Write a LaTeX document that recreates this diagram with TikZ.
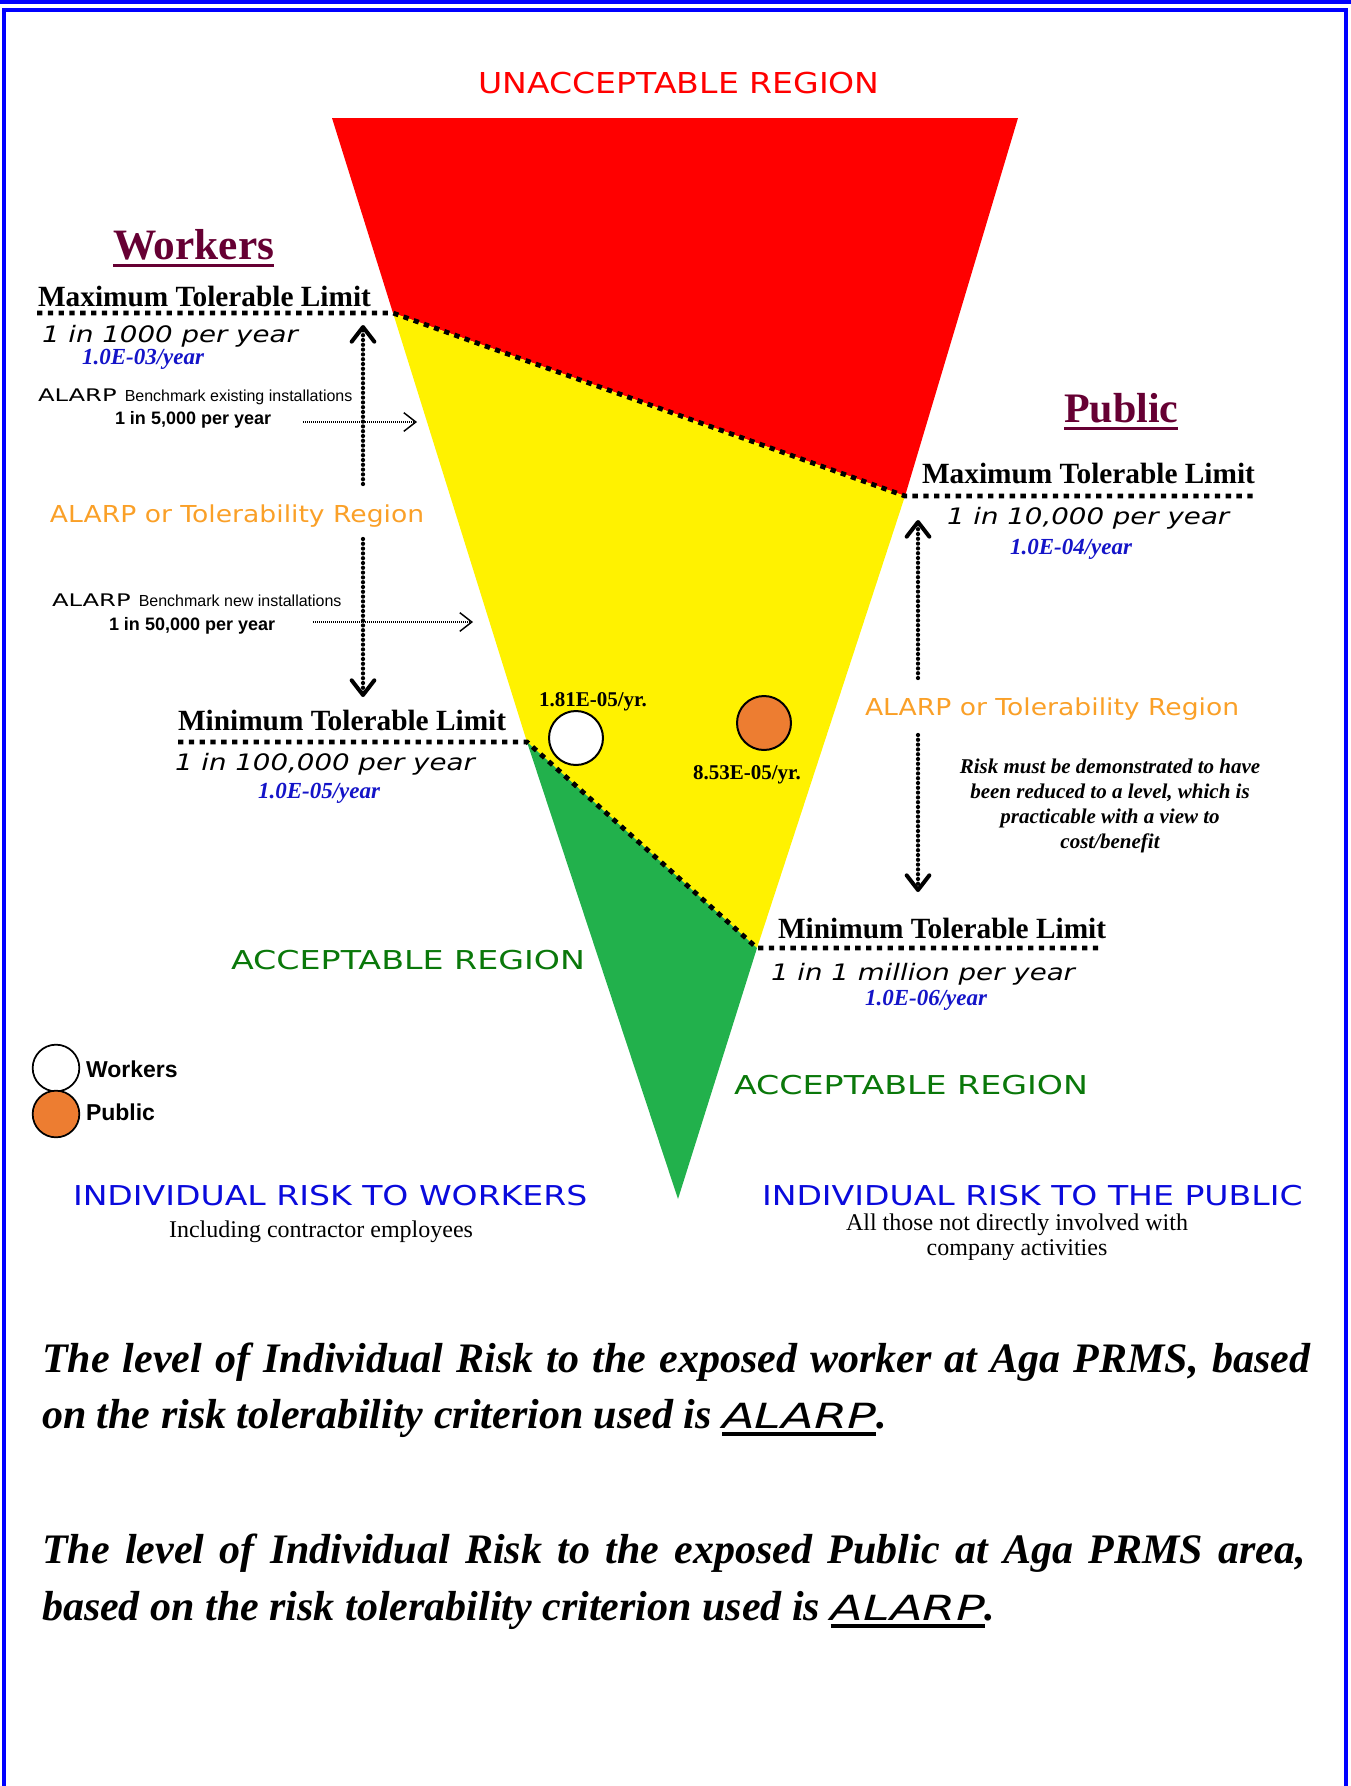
\documentclass[tikz,border=0pt]{standalone}
\usepackage{fontspec}
\usepackage{graphicx}
\setmainfont{Liberation Serif}
\newfontfamily\tms{Liberation Serif}
\newfontfamily\arl{Liberation Sans}
\newfontfamily\dvs{DejaVu Sans}
\usetikzlibrary{arrows.meta}
\newcommand\fsz[1]{\fontsize{#1}{#1}\selectfont}
\newcommand\sx[2]{\scalebox{#1}[1]{#2}}
\newcommand\thul[3]{\setbox0=\hbox{#3}\rlap{\rule[#1]{\wd0}{#2}}\box0}
\definecolor{rred}{RGB}{255,0,0}
\definecolor{ryel}{RGB}{255,242,0}
\definecolor{rgrn}{RGB}{34,177,76}
\definecolor{rorg}{RGB}{237,125,49}
\definecolor{maroonh}{RGB}{102,0,51}
\definecolor{alarpc}{RGB}{250,160,40}
\definecolor{accg}{RGB}{10,120,10}
\definecolor{valblue}{RGB}{20,20,200}
\definecolor{hdblue}{RGB}{10,10,220}
\definecolor{frameblue}{RGB}{0,0,255}
\begin{document}
\begin{tikzpicture}[x=0.75pt,y=-0.75pt,
  txt/.style={inner sep=0pt,outer sep=0pt},
  limitline/.style={line width=3.6pt,dash pattern=on 4pt off 4.1pt},
  bigarrow/.style={line width=3.2pt,line cap=round,dash pattern=on 0pt off 3.6pt,
     -{Straight Barb[length=11pt,width=17pt,line width=3pt,round]}},
  smallarrow/.style={line width=1pt,dash pattern=on 0.75pt off 0.75pt,
     -{Straight Barb[length=9pt,width=14pt,line width=1.1pt]}},
  mtl/.style={txt,anchor=base west,font=\tms\bfseries\fsz{22}},
  val/.style={txt,anchor=base west,text=valblue,font=\tms\bfseries\itshape\fsz{17.25}},
  peryr/.style={txt,anchor=base west},
  riskv/.style={txt,anchor=base,font=\tms\bfseries\fsz{15.75}},
  dot/.style={circle,draw,line width=1.5pt,inner sep=0pt,minimum size=40.5pt},
  legdot/.style={circle,draw,line width=1.3pt,inner sep=0pt,minimum size=35pt},
]
\useasboundingbox (0,0) rectangle (1351,1786);
% frame
\draw[frameblue,line width=3pt] (0,2) -- (1351,2);
\draw[frameblue,line width=2.5pt] (4,1790) -- (4,10) -- (1346,10) -- (1346,1790);

% triangle geometry
\coordinate (TL) at (332,118);
\coordinate (TR) at (1018,118);
\coordinate (apex) at (678,1199);
\coordinate (wmaxL) at (37,313);
\coordinate (wmaxE) at (393,313);
\coordinate (pmaxE) at (905,496);
\coordinate (pmaxR) at (1253,496);
\coordinate (wminL) at (178,742);
\coordinate (wminE) at (527,742);
\coordinate (pminE) at (757,948);
\coordinate (pminR) at (1103,948);

\fill[rred] (TL) -- (TR) -- (pmaxE) -- (wmaxE) -- cycle;
\fill[ryel] (wmaxE) -- (pmaxE) -- (pminE) -- (wminE) -- cycle;
\fill[rgrn] (wminE) -- (pminE) -- (apex) -- cycle;

\draw[limitline] (wmaxL) -- (wmaxE) -- (pmaxE) -- (pmaxR);
\draw[limitline] (wminL) -- (wminE) -- (pminE) -- (pminR);

% top title
\node[txt,anchor=base,text=rred] (unacc) at (679,93) {\sx{1.15}{\dvs\fsz{21.6}UNACCEPTABLE REGION}};

% Workers side
\node[txt,anchor=base west,text=maroonh] (wkh) at (113,259) {\thul{-6.25pt}{2.5pt}{\tms\bfseries\fsz{32.5}Workers}};
\node[mtl] (wmax) at (38,306) {Maximum Tolerable Limit};
\node[peryr] (wmaxr) at (42,342) {\sx{1.22}{\dvs\itshape\fsz{17}1 in 1000 per year}};
\node[val] (wmaxv) at (82,364) {1.0E-03/year};
\node[txt,anchor=base west] (bex) at (38,401) {\sx{1.4}{\dvs\fsz{13}ALARP}\hspace{6pt}{\arl\fsz{12}Benchmark existing installations}};
\node[txt,anchor=base west] (bexr) at (115,424) {\arl\bfseries\fsz{13.5}1 in 5,000 per year};
\node[txt,anchor=base west,text=alarpc] (walarp) at (50,522) {\sx{1.14}{\dvs\fsz{17.5}ALARP or Tolerability Region}};
\node[txt,anchor=base west] (bnew) at (52,606) {\sx{1.4}{\dvs\fsz{13}ALARP}\hspace{6pt}{\arl\fsz{12}Benchmark new installations}};
\node[txt,anchor=base west] (bnewr) at (109,630) {\arl\bfseries\fsz{13.5}1 in 50,000 per year};
\node[mtl] (wmin) at (178,730) {Minimum Tolerable Limit};
\node[peryr] (wminr) at (175,770) {\sx{1.22}{\dvs\itshape\fsz{17}1 in 100,000 per year}};
\node[val] (wminv) at (258,798) {1.0E-05/year};

% workers arrows
\coordinate (wa1s) at (363,484); \coordinate (wa1t) at (363,325);
\coordinate (wa2s) at (363,539); \coordinate (wa2t) at (363,697);
\draw[bigarrow] (wa1s) -- (wa1t);
\draw[bigarrow] (wa2s) -- (wa2t);
\coordinate (ha1s) at (303,422); \coordinate (ha1t) at (417,422);
\coordinate (ha2s) at (313,622); \coordinate (ha2t) at (473,622);
\draw[smallarrow] (ha1s) -- (ha1t);
\draw[smallarrow] (ha2s) -- (ha2t);

% Public side
\node[txt,anchor=base west,text=maroonh] (pbh) at (1064,422) {\thul{-6.25pt}{2.2pt}{\tms\bfseries\fsz{31.5}Public}};
\node[mtl] (pmax) at (922,483) {Maximum Tolerable Limit};
\node[peryr] (pmaxr) at (947,524) {\sx{1.22}{\dvs\itshape\fsz{17}1 in 10,000 per year}};
\node[val] (pmaxv) at (1010,554) {1.0E-04/year};
\node[txt,anchor=base west,text=alarpc] (palarp) at (865,715) {\sx{1.14}{\dvs\fsz{17.5}ALARP or Tolerability Region}};
\node[txt,anchor=base,align=center,font=\tms\bfseries\itshape\fontsize{15.75}{18.75}\selectfont] (risk) at (1110,848)
  {Risk must be demonstrated to have\\been reduced to a level, which is\\practicable with a view to\\cost/benefit};
\node[mtl] (pmin) at (778,938) {Minimum Tolerable Limit};
\node[peryr] (pminr) at (771,980) {\sx{1.22}{\dvs\itshape\fsz{17}1 in 1 million per year}};
\node[val] (pminv) at (865,1005) {1.0E-06/year};

\coordinate (pa1s) at (918,678); \coordinate (pa1t) at (918,520);
\coordinate (pa2s) at (918,735); \coordinate (pa2t) at (918,892);
\draw[bigarrow] (pa1s) -- (pa1t);
\draw[bigarrow] (pa2s) -- (pa2t);

% risk points
\node[dot,fill=white] (wdot) at (576,738) {};
\node[dot,fill=rorg] (pdot) at (764,723) {};
\node[riskv] (wval) at (593,706) {1.81E-05/yr.};
\node[riskv] (pval) at (747,779) {8.53E-05/yr.};

% acceptable regions
\node[txt,anchor=base west,text=accg] (accL) at (231,969) {\sx{1.28}{\dvs\fsz{19.5}ACCEPTABLE REGION}};
\node[txt,anchor=base west,text=accg] (accR) at (734,1094) {\sx{1.28}{\dvs\fsz{19.5}ACCEPTABLE REGION}};

% legend
\node[legdot,fill=white] (lgw) at (56,1068) {};
\node[legdot,fill=rorg] (lgp) at (56,1114) {};
\node[txt,anchor=base west,font=\arl\bfseries\fsz{17.25}] (lgwt) at (86,1077) {Workers};
\node[txt,anchor=base west,font=\arl\bfseries\fsz{17.25}] (lgpt) at (86,1120) {Public};

% individual risk headings
\node[txt,anchor=base west,text=hdblue] (irw) at (73,1205) {\sx{1.21}{\dvs\fsz{20.5}INDIVIDUAL RISK TO WORKERS}};
\node[txt,anchor=base,font=\tms\fsz{18}] (irwt) at (321,1237) {Including contractor employees};
\node[txt,anchor=base west,text=hdblue] (irp) at (762,1205) {\sx{1.21}{\dvs\fsz{20.5}INDIVIDUAL RISK TO THE PUBLIC}};
\begin{scope}
\clip (700,1100) rectangle (1340,1259);
\node[txt,anchor=base,font=\tms\fsz{18}] (irpt1) at (1017,1230) {All those not directly involved with};
\node[txt,anchor=base,font=\tms\fsz{18}] (irpt2) at (1017,1255) {company activities};
\end{scope}

% conclusions
\node[txt,anchor=base west] (c1a) at (42,1372) {\makebox[951pt][s]{\tms\bfseries\itshape\fsz{31.5}The level of Individual Risk to the exposed worker at Aga PRMS, based}};
\node[txt,anchor=base west] (c1b) at (42,1428) {\tms\bfseries\itshape\fsz{31.5}on the risk tolerability criterion used is \thul{-5.7pt}{2.4pt}{\sx{1.38}{\dvs\mdseries\itshape\fsz{26}ALARP}}.};
\node[txt,anchor=base west] (c2a) at (42,1563) {\makebox[948pt][s]{\tms\bfseries\itshape\fsz{31.5}The level of Individual Risk to the exposed Public at Aga PRMS area,}};
\node[txt,anchor=base west] (c2b) at (42,1620) {\tms\bfseries\itshape\fsz{31.5}based on the risk tolerability criterion used is \thul{-5.7pt}{2.4pt}{\sx{1.38}{\dvs\mdseries\itshape\fsz{26}ALARP}}.};
\end{tikzpicture}
\end{document}
